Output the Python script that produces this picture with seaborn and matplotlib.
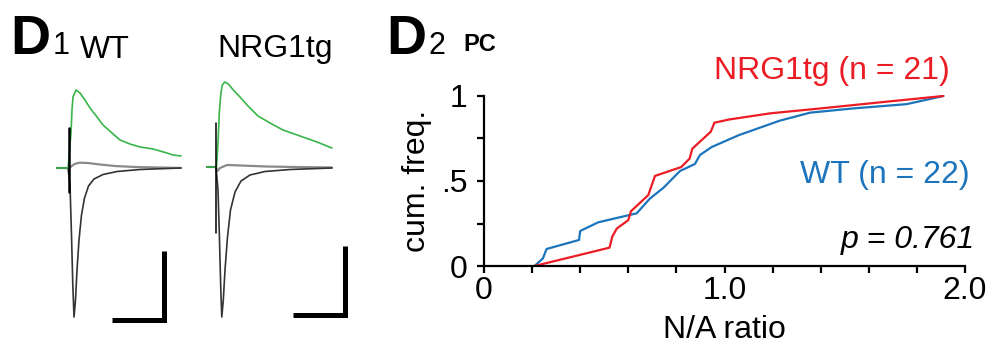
import numpy as np
import seaborn as sns
import matplotlib.pyplot as plt

# ---- D1: example traces (t = ms from stimulus, amp relative to baseline)
wt_green_t = [-12, -1, 0, 2, 3, 4, 7, 11, 16, 21, 28, 34, 43, 51, 61, 71, 84, 98, 104, 112]
wt_green_amp = [0, 0, 11, 35, 58, 71, 78, 75, 68, 60, 51, 43, 35, 28, 24, 21, 19, 15, 13, 12]
wt_black_t = [-12, -1, 1, 2.5, 3.8, 5, 6.5, 8, 10, 12.5, 15.5, 19.5, 25, 34, 48, 71, 112]
wt_black_amp = [0, 0, -17, -67, -117, -149, -132, -102, -72, -47, -30, -18, -11, -6.5, -3.5, -1.5, 0]
wt_gray_t = [-12, -1, 1.5, 4, 7, 11, 19, 31, 46, 66, 112]
wt_gray_amp = [0, 0, 1, 3, 4.5, 5.3, 5, 3.5, 2, 1, 0]

tg_green_t = [-9, 0.5, 2, 3.3, 4.7, 6.3, 8.7, 12.3, 17.3, 24, 32, 42, 54, 67, 84, 101, 116]
tg_green_amp = [0, 0, 24, 54, 72, 82, 85, 83, 77, 70, 61, 51, 44, 37, 31, 25, 19]
tg_black_t = [-9, 0, 2, 3.5, 4.8, 5.8, 7.3, 9, 11.5, 14.5, 19, 25, 34, 49, 74, 116]
tg_black_amp = [0, 0, -23, -73, -123, -150, -133, -103, -70, -43, -25, -14, -8, -4.5, -2.5, -1]
tg_gray_t = [-9, 0, 1.5, 4, 11, 25, 50, 80, 116]
tg_gray_amp = [0, 0, -4, -1, 2, 1.5, 0.5, 0, -0.5]

wt_artifact = (40, -24)
tg_artifact = (44, -66)
scale_t = 52
scale_amp = 69

# ---- D2: cumulative distribution of N/A ratio
wt_ratio = [0.21, 0.245, 0.26, 0.395, 0.40, 0.475, 0.635, 0.69, 0.746, 0.815, 0.877,
            0.898, 0.947, 1.06, 1.23, 1.356, 1.536, 1.757, 1.91]
wt_cum = [0.0, 0.045, 0.10, 0.153, 0.206, 0.257, 0.31, 0.397, 0.46, 0.559, 0.60,
          0.653, 0.70, 0.77, 0.855, 0.902, 0.927, 0.952, 1.0]
tg_ratio = [0.21, 0.522, 0.533, 0.552, 0.60, 0.611, 0.683, 0.711, 0.82, 0.855, 0.866,
            0.943, 0.958, 1.02, 1.19, 1.40, 1.67, 1.91]
tg_cum = [0.0, 0.108, 0.172, 0.22, 0.27, 0.322, 0.417, 0.53, 0.582, 0.632, 0.69,
          0.79, 0.843, 0.862, 0.898, 0.927, 0.966, 1.0]

GREEN = "#39b54a"
BLACK = "#333333"
GRAY = "#8a8a8a"
RED = "#ec1c24"
BLUE = "#1c75bc"

sns.set_style("white")
plt.rcParams["font.family"] = ["Liberation Sans", "DejaVu Sans"]
plt.rcParams["text.color"] = "black"
plt.rcParams["axes.labelcolor"] = "black"
plt.rcParams["xtick.color"] = "black"
plt.rcParams["ytick.color"] = "black"

W, H = 994, 350
fig = plt.figure(figsize=(W / 100, H / 100), dpi=100)


def px_rect(x0, y0, x1, y1):
    return [x0 / W, 1 - y1 / H, (x1 - x0) / W, (y1 - y0) / H]


def draw_traces(ax, gray, black, green, artifact, art_lw, corner):
    sns.lineplot(x=gray[0], y=gray[1], ax=ax, color=GRAY, lw=1.6, sort=False, estimator=None)
    sns.lineplot(x=black[0], y=black[1], ax=ax, color=BLACK, lw=1.2, sort=False, estimator=None)
    sns.lineplot(x=green[0], y=green[1], ax=ax, color=GREEN, lw=1.2, sort=False, estimator=None)
    ax.plot([0, 0], list(artifact), color="black", lw=art_lw)
    cx, cy = corner
    ax.plot([cx - scale_t, cx, cx], [cy, cy, cy + scale_amp], color="black", lw=3.6,
            solid_joinstyle="miter", solid_capstyle="butt")
    ax.axis("off")


# WT traces
ax1 = fig.add_axes(px_rect(50, 75, 190, 330))
draw_traces(ax1, (wt_gray_t, wt_gray_amp), (wt_black_t, wt_black_amp),
            (wt_green_t, wt_green_amp), wt_artifact, 1.8, (95.3, -152))
ax1.set_xlim(-19, 121)
ax1.set_ylim(-162, 93)

# NRG1tg traces
ax2 = fig.add_axes(px_rect(195, 75, 355, 330))
draw_traces(ax2, (tg_gray_t, tg_gray_amp), (tg_black_t, tg_black_amp),
            (tg_green_t, tg_green_amp), tg_artifact, 1.1, (129, -148))
ax2.set_xlim(-21, 139)
ax2.set_ylim(-163, 92)

# cumulative plot
ax3 = fig.add_axes(px_rect(484, 96, 965, 266))
sns.lineplot(x=wt_ratio, y=wt_cum, ax=ax3, color=BLUE, lw=1.6, sort=False,
             estimator=None, clip_on=False)
sns.lineplot(x=tg_ratio, y=tg_cum, ax=ax3, color=RED, lw=1.6, sort=False,
             estimator=None, clip_on=False)
ax3.set_xlim(0, 2)
ax3.set_ylim(0, 1)
ax3.set_xticks(np.arange(0, 2.01, 0.2))
ax3.set_xticklabels(["0", "", "", "", "", "1.0", "", "", "", "", "2.0"])
ax3.set_yticks([0, 0.25, 0.5, 0.75, 1])
ax3.set_yticklabels(["0", "", ".5", "", "1"])
ax3.tick_params(axis="x", length=5, width=1.6, pad=2, labelsize=23, direction="out")
ax3.tick_params(axis="y", length=5, width=1.6, pad=7, labelsize=23, direction="out")
ax3.tick_params(bottom=True, left=True)
for side in ["top", "right"]:
    ax3.spines[side].set_visible(False)
for side in ["left", "bottom"]:
    ax3.spines[side].set_linewidth(1.6)
    ax3.spines[side].set_color("black")
ax3.set_xlabel("N/A ratio", fontsize=23)
ax3.set_ylabel("cum. freq.", fontsize=23)
ax3.xaxis.set_label_coords(0.5, -0.29)
ax3.yaxis.set_label_coords(-0.108, 0.5)

ax3.text(1.938, 1.147, "NRG1tg (n = 21)", color=RED, ha="right", va="center", fontsize=23)
ax3.text(2.02, 0.535, "WT (n = 22)", color=BLUE, ha="right", va="center", fontsize=23)
ax3.text(2.04, 0.153, "p = 0.761", color="black", ha="right", va="center",
         fontsize=23, style="italic")

# panel labels
def ftext(x, y, s, **kw):
    fig.text(x / W, 1 - y / H, s, va="baseline", **kw)


ftext(10, 54, "D", fontsize=40, fontweight="bold")
ftext(53, 54, "1", fontsize=22)
ftext(80, 58, "WT", fontsize=23)
ftext(217, 57, "NRG1tg", fontsize=23)
ftext(386, 54, "D", fontsize=40, fontweight="bold")
ftext(429, 54, "2", fontsize=22)
ftext(463, 51, "PC", fontsize=17, fontweight="bold")

fig.savefig("out.png", dpi=100)
